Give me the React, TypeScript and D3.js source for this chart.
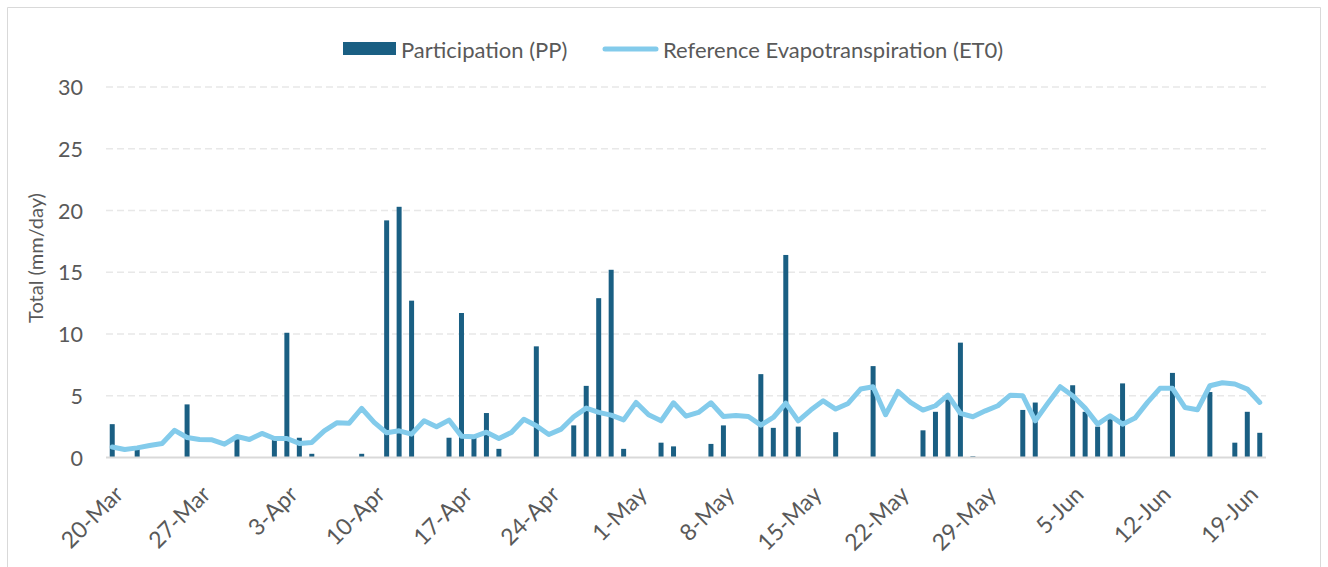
import React from "react";
import * as d3 from "d3";

// Daily precipitation (mm/day), 20-Mar .. 20-Jun (93 days)
const precipitation: number[] = [
  2.7, 0, 0.7, 0, 0, 0, 4.3, 0, 0, 0,
  1.5, 0, 0, 1.5, 10.1, 1.6, 0.3, 0, 0, 0,
  0.3, 0, 19.2, 20.3, 12.7, 0, 0, 1.6, 11.7, 1.6,
  3.6, 0.7, 0, 0, 9.0, 0, 0, 2.6, 5.8, 12.9,
  15.2, 0.7, 0, 0, 1.2, 0.9, 0, 0, 1.1, 2.6,
  0, 0, 6.75, 2.4, 16.4, 2.5, 0, 0, 2.05, 0,
  0, 7.4, 0, 0, 0, 2.2, 3.7, 4.7, 9.3, 0.1,
  0, 0, 0, 3.85, 4.45, 0, 0, 5.85, 3.7, 2.5,
  3.1, 6.0, 0, 0, 0, 6.85, 0, 0, 5.3, 0,
  1.2, 3.7, 2.0,
];

// Reference evapotranspiration ET0 (mm/day)
const et0: number[] = [
  0.85, 0.65, 0.78, 0.97, 1.14, 2.2, 1.62, 1.46, 1.43, 1.08,
  1.7, 1.46, 1.95, 1.54, 1.54, 1.14, 1.22, 2.16, 2.81, 2.78,
  3.97, 2.84, 2.0, 2.16, 1.89, 2.97, 2.49, 3.03, 1.73, 1.68,
  2.05, 1.54, 2.03, 3.1, 2.57, 1.86, 2.3, 3.3, 4.0, 3.65,
  3.43, 3.05, 4.46, 3.46, 2.97, 4.43, 3.35, 3.65, 4.43, 3.32,
  3.4, 3.32, 2.62, 3.24, 4.4, 2.97, 3.84, 4.59, 3.92, 4.38,
  5.54, 5.73, 3.46, 5.35, 4.46, 3.84, 4.19, 5.05, 3.57, 3.3,
  3.78, 4.19, 5.05, 5.0, 2.97, 4.38, 5.73, 5.0, 4.0, 2.7,
  3.38, 2.7, 3.19, 4.46, 5.6, 5.6, 4.05, 3.86, 5.81, 6.05,
  5.95, 5.54, 4.46,
];

const tickIndices: number[] = [0, 7, 14, 21, 28, 35, 42, 49, 56, 63, 70, 77, 84, 91];
const tickLabels: string[] = [
  "20-Mar", "27-Mar", "3-Apr", "10-Apr", "17-Apr", "24-Apr", "1-May",
  "8-May", "15-May", "22-May", "29-May", "5-Jun", "12-Jun", "19-Jun",
];
const yTicks: number[] = [0, 5, 10, 15, 20, 25, 30];

const seriesNames = ["Participation (PP)", "Reference Evapotranspiration (ET0)"];

const W = 1328;
const H = 567;
const BAR_COLOR = "#1a5f83";
const LINE_COLOR = "#83cbeb";
const TEXT_COLOR = "#595959";
const FONT = "Lato, 'Open Sans', sans-serif";

export default function App() {
  const left = 106;
  const right = 1266;
  const top = 87;
  const bottom = 457.5;

  const idx = d3.range(precipitation.length);
  const x = d3.scalePoint<number>().domain(idx).range([left, right]).padding(0.5);
  const step = x.step();
  const barW = step * 0.4;
  const y = d3.scaleLinear().domain([0, 30]).range([bottom, top]);

  const line = d3
    .line<number>()
    .x((_, i) => x(i) as number)
    .y((d) => y(d));

  return (
    <svg
      width={W}
      height={H}
      style={{ position: "absolute", left: 0, top: 0, fontFamily: FONT }}
    >
      <rect x={0} y={0} width={W} height={H} fill="#ffffff" />
      <path
        d={`M7.5,${H + 2} V7.5 H1320.5 V${H + 2}`}
        fill="none"
        stroke="#d9d9d9"
        strokeWidth={1}
      />
      {/* gridlines */}
      {yTicks
        .filter((t) => t > 0)
        .map((t) => (
          <line
            key={t}
            x1={left}
            x2={right}
            y1={y(t)}
            y2={y(t)}
            stroke="#e8e8e8"
            strokeWidth={1.6}
            strokeDasharray="7,4"
          />
        ))}
      {/* y tick labels */}
      {yTicks.map((t) => (
        <text
          key={t}
          x={83}
          y={y(t)}
          textAnchor="end"
          dominantBaseline="central"
          fontSize={21.5}
          fill={TEXT_COLOR}
        >
          {t}
        </text>
      ))}
      {/* y axis title */}
      <text
        transform={`translate(43,258) rotate(-90)`}
        textAnchor="middle"
        fontSize={20}
        fill={TEXT_COLOR}
      >
        Total (mm/day)
      </text>
      {/* bars */}
      {precipitation.map((v, i) =>
        v > 0 ? (
          <rect
            key={i}
            x={(x(i) as number) - barW / 2}
            y={y(v)}
            width={barW}
            height={bottom - y(v)}
            fill={BAR_COLOR}
          />
        ) : null
      )}
      {/* baseline */}
      <line x1={left} x2={right} y1={bottom} y2={bottom} stroke="#d9d9d9" strokeWidth={2} />
      {/* ET0 line */}
      <path
        d={line(et0) || ""}
        fill="none"
        stroke={LINE_COLOR}
        strokeWidth={5}
        strokeLinejoin="round"
        strokeLinecap="round"
      />
      {/* x tick labels */}
      {tickIndices.map((ti, k) => (
        <text
          key={ti}
          transform={`translate(${(x(ti) as number) + 6},${bottom + 32}) rotate(-45)`}
          textAnchor="end"
          dominantBaseline="central"
          fontSize={23}
          fill={TEXT_COLOR}
        >
          {tickLabels[k]}
        </text>
      ))}
      {/* legend */}
      <rect x={343} y={42} width={53} height={13} fill={BAR_COLOR} />
      <text x={401} y={49} dominantBaseline="central" fontSize={22} fill={TEXT_COLOR}>
        {seriesNames[0]}
      </text>
      <line
        x1={605}
        x2={656}
        y1={49}
        y2={49}
        stroke={LINE_COLOR}
        strokeWidth={5}
        strokeLinecap="round"
      />
      <text x={663} y={49} dominantBaseline="central" fontSize={22} fill={TEXT_COLOR}>
        {seriesNames[1]}
      </text>
    </svg>
  );
}
